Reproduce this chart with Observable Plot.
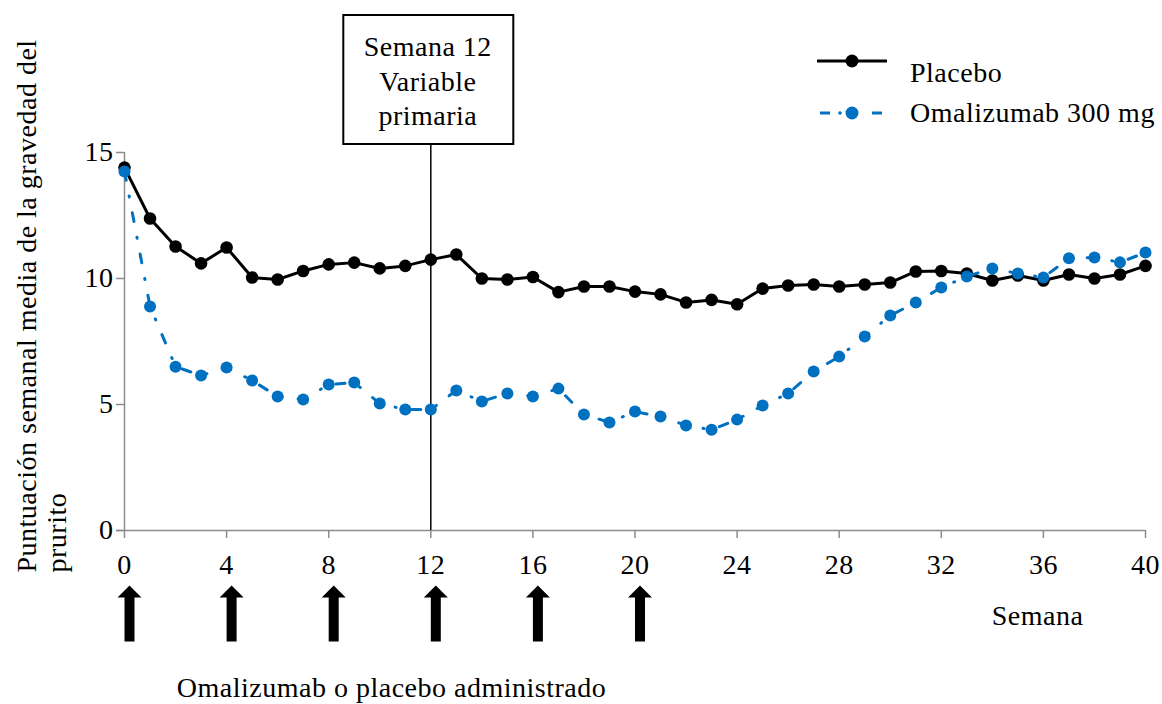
<!DOCTYPE html>
<html>
<head>
<meta charset="utf-8">
<script src="https://cdn.jsdelivr.net/npm/d3@7"></script>
<script src="https://cdn.jsdelivr.net/npm/@observablehq/plot@0.6"></script>
<style>
  body { margin: 0; background: #fff; font-family: "Liberation Serif", "Times New Roman", serif; }
  #wrap { position: relative; width: 1162px; height: 704px; }
  .leg { position: absolute; font-size: 28px; letter-spacing: 0.5px; line-height: 28px; white-space: nowrap; color: #000; }
</style>
</head>
<body>
<div id="wrap"></div>
<script>
// ---- data ----
const weeks = [0,1,2,3,4,5,6,7,8,9,10,11,12,13,14,15,16,17,18,19,20,21,22,23,24,25,26,27,28,29,30,31,32,33,34,35,36,37,38,39,40];
const placebo = [14.4,12.38,11.27,10.6,11.23,10.04,9.96,10.3,10.56,10.63,10.4,10.5,10.75,10.95,10.0,9.96,10.06,9.46,9.68,9.68,9.48,9.37,9.05,9.15,8.98,9.6,9.72,9.76,9.68,9.76,9.84,10.28,10.3,10.2,9.92,10.12,9.92,10.16,10.0,10.16,10.5];
const omalizumab = [14.25,8.89,6.5,6.15,6.47,5.95,5.32,5.2,5.79,5.87,5.04,4.8,4.8,5.56,5.12,5.44,5.32,5.63,4.6,4.29,4.72,4.52,4.17,4.0,4.4,4.96,5.44,6.31,6.9,7.7,8.53,9.05,9.64,10.08,10.4,10.2,10.04,10.8,10.83,10.64,11.03];
const seriesNames = ["Placebo", "Omalizumab 300 mg"];
const xTicks = [0,4,8,12,16,20,24,28,32,36,40];
const yTicks = [0,5,10,15];
const doseWeeks = [0,4,8,12,16,20];
const primaryWeek = 12;
const boxText = "Semana 12\nVariable\nprimaria";
const xLabel = "Semana";
const yLabel = "Puntuación semanal media de la gravedad del\nprurito";
const caption = "Omalizumab o placebo administrado";

// ---- styles ----
const blue = "#0070C0";
const axisGray = "#8c8c8c";
const dashPattern = "9,16,1,16";

const rows = weeks.map((w, i) => ({week: w, placebo: placebo[i], omal: omalizumab[i]}));

const blockArrow = {
  draw(ctx, l) {
    const h = 12, hw = 12, sw = 5;
    ctx.moveTo(-sw, 0);
    ctx.lineTo(-sw, -(l - h));
    ctx.lineTo(-hw, -(l - h));
    ctx.lineTo(0, -l);
    ctx.lineTo(hw, -(l - h));
    ctx.lineTo(sw, -(l - h));
    ctx.lineTo(sw, 0);
    ctx.closePath();
  }
};

const plot = Plot.plot({
  width: 1162,
  height: 704,
  marginLeft: 124,
  marginRight: 17,
  marginTop: 152,
  marginBottom: 174,
  style: {
    fontFamily: "'Liberation Serif', 'Times New Roman', serif",
    fontSize: "28px",
    letterSpacing: "0.5px",
    background: "white",
    color: "black",
    overflow: "visible"
  },
  x: {domain: [0, 40]},
  y: {domain: [0, 15]},
  marks: [
    Plot.ruleY([0], {stroke: axisGray, strokeWidth: 1.5, insetLeft: -8}),
    Plot.ruleX([0], {stroke: axisGray, strokeWidth: 1.5}),
    Plot.axisX(xTicks, {tickSize: 8, tickPadding: 16, stroke: axisGray, strokeWidth: 1.5, fill: "black", label: null}),
    Plot.axisY(yTicks, {tickSize: 8, tickPadding: 3, stroke: axisGray, strokeWidth: 1.5, fill: "black", label: null}),
    Plot.ruleX([primaryWeek], {insetTop: -8, stroke: "black", strokeWidth: 1.5}),
    Plot.rect([primaryWeek], {
      x1: d => d, x2: d => d, y1: () => 15, y2: () => 15,
      insetLeft: -87, insetRight: -83, insetTop: -137, insetBottom: 8,
      fill: "white", stroke: "black", strokeWidth: 2
    }),
    Plot.text([boxText], {
      x: () => primaryWeek, frameAnchor: "top", text: d => d,
      lineAnchor: "middle", lineHeight: 1.23, dy: -73, dx: -3, fill: "black"
    }),
    Plot.line(rows, {x: "week", y: "placebo", stroke: "black", strokeWidth: 3}),
    Plot.dot(rows, {x: "week", y: "placebo", r: 6.3, fill: "black"}),
    Plot.line(rows, {x: "week", y: "omal", stroke: blue, strokeWidth: 3, strokeDasharray: dashPattern, strokeLinecap: "round"}),
    Plot.dot(rows, {x: "week", y: "omal", r: 6, fill: blue}),
    Plot.vector(doseWeeks, {
      x: d => d, frameAnchor: "bottom", anchor: "start", length: 56,
      shape: blockArrow, fill: "black", stroke: "none", dx: 5, dy: 111
    }),
    Plot.text([xLabel], {frameAnchor: "bottom-right", text: d => d, textAnchor: "middle", lineAnchor: "middle", dx: -108, dy: 86, fill: "black"}),
    Plot.text([caption], {frameAnchor: "bottom-left", text: d => d, textAnchor: "middle", lineAnchor: "middle", dx: 267, dy: 158, fill: "black"}),
    Plot.text([yLabel], {
      frameAnchor: "bottom-left", text: d => d, rotate: -90, textAnchor: "start",
      lineAnchor: "top", lineHeight: 1.07, dx: -110, dy: 42, fill: "black"
    })
  ]
});

const wrap = document.getElementById("wrap");
wrap.appendChild(plot);

// ---- legend (HTML overlay) ----
function addSwatch(top, kind) {
  const ns = "http://www.w3.org/2000/svg";
  const svg = document.createElementNS(ns, "svg");
  svg.setAttribute("width", 72); svg.setAttribute("height", 20);
  svg.style.position = "absolute"; svg.style.left = "816px"; svg.style.top = top + "px";
  if (kind === 0) {
    const l = document.createElementNS(ns, "line");
    l.setAttribute("x1", 1); l.setAttribute("x2", 71); l.setAttribute("y1", 10); l.setAttribute("y2", 10);
    l.setAttribute("stroke", "black"); l.setAttribute("stroke-width", 3);
    svg.appendChild(l);
    const c = document.createElementNS(ns, "circle");
    c.setAttribute("cx", 36); c.setAttribute("cy", 10); c.setAttribute("r", 6.5); c.setAttribute("fill", "black");
    svg.appendChild(c);
  } else {
    [[4, 14], [56, 66]].forEach(([a, b]) => {
      const l = document.createElementNS(ns, "line");
      l.setAttribute("x1", a); l.setAttribute("x2", b); l.setAttribute("y1", 10); l.setAttribute("y2", 10);
      l.setAttribute("stroke", blue); l.setAttribute("stroke-width", 3);
      svg.appendChild(l);
    });
    const d = document.createElementNS(ns, "circle");
    d.setAttribute("cx", 24); d.setAttribute("cy", 10); d.setAttribute("r", 1.8); d.setAttribute("fill", blue);
    svg.appendChild(d);
    const c = document.createElementNS(ns, "circle");
    c.setAttribute("cx", 36); c.setAttribute("cy", 10); c.setAttribute("r", 6.5); c.setAttribute("fill", blue);
    svg.appendChild(c);
  }
  wrap.appendChild(svg);
}
function addLegendText(top, text) {
  const div = document.createElement("div");
  div.className = "leg";
  div.style.left = "910px";
  div.style.top = top + "px";
  div.textContent = text;
  wrap.appendChild(div);
}
addSwatch(51, 0);
addLegendText(58.5, seriesNames[0]);
addSwatch(103, 1);
addLegendText(98.5, seriesNames[1]);
</script>
</body>
</html>
